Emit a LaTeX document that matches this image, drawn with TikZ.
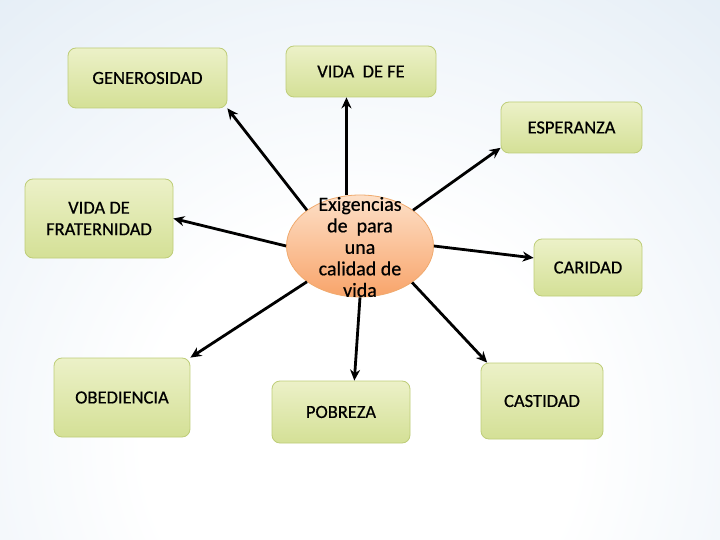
\documentclass[tikz,border=0pt]{standalone}
\usepackage{fontspec}
\setmainfont{Carlito}
\newfontfamily\labelfont{Carlito}[FakeBold=0.6]
\usetikzlibrary{shapes.geometric,arrows.meta}
\definecolor{bgblue}{RGB}{194,214,233}
\definecolor{bgmid}{RGB}{214,228,241}
\definecolor{boxtop}{RGB}{236,241,200}
\definecolor{boxbot}{RGB}{212,224,150}
\definecolor{boxline}{RGB}{190,205,120}
\definecolor{elltop}{RGB}{253,224,200}
\definecolor{ellbot}{RGB}{248,164,106}
\definecolor{ellline}{RGB}{240,170,110}
\pgfdeclareradialshading{bgglow}{\pgfpoint{0bp}{0bp}}{color(0bp)=(white); color(9bp)=(white); color(33bp)=(bgmid); color(46bp)=(bgblue); color(50bp)=(bgblue)}
\tikzset{
  greenbox/.style={draw=boxline, line width=0.8pt, rounded corners=8pt,
    top color=boxtop, bottom color=boxbot, inner sep=0pt, align=center,
    font=\labelfont\fontsize{18.5}{21.5}\selectfont},
  centreell/.style={ellipse, draw=ellline, line width=0.8pt,
    top color=elltop, bottom color=ellbot, inner sep=0pt},
  centretext/.style={align=center, inner sep=0pt, font=\labelfont\fontsize{20}{21.5}\selectfont},
  link/.style={line width=2.8pt, -{Stealth[length=11pt,width=10pt]}}
}
\begin{document}
\begin{tikzpicture}[x=1pt,y=-1pt]
\useasboundingbox (0,0) rectangle (720,540);
\fill[bgblue] (0,0) rectangle (720,540);
\begin{scope}
\clip (0,0) rectangle (720,540);
\fill[shading=bgglow] (360,440) circle [radius=600];
\end{scope}

\node[greenbox, minimum width=159pt, minimum height=60pt] (gen) at (147.5,78) {GENEROSIDAD};
\node[greenbox, minimum width=150pt, minimum height=51pt] (fe) at (361,71.5) {VIDA\ \ DE FE};
\node[greenbox, minimum width=141pt, minimum height=51pt] (esp) at (571.5,127.5) {ESPERANZA};
\node[greenbox, minimum width=148pt, minimum height=79pt] (frat) at (99,218.5) {VIDA DE\\FRATERNIDAD};
\node[greenbox, minimum width=108pt, minimum height=57pt] (car) at (588,267.5) {CARIDAD};
\node[greenbox, minimum width=136pt, minimum height=79pt] (obe) at (122,397.5) {OBEDIENCIA};
\node[greenbox, minimum width=138pt, minimum height=62pt] (pob) at (341,412) {POBREZA};
\node[greenbox, minimum width=122pt, minimum height=76pt] (cas) at (542,401) {CASTIDAD};

\node[centreell, minimum width=147pt, minimum height=102pt] (c) at (360,246) {};
\node[centretext] (ct) at (360,247) {Exigencias\\de\ \ para\\una\\calidad de\\vida};

\draw[link] (c.146.6) -- (gen.south east);
\draw[link] (c.105.6) -- (c.105.6 |- fe.south);
\draw[link] (c.34) -- (esp.196);
\draw[link] (c.west) -- (frat.east);
\draw[link] (c.east) -- (car.170);
\draw[link] (c.214) -- (obe.north east);
\draw[link] (c.south) -- (pob.67);
\draw[link] (c.325) -- (cas.145);
\end{tikzpicture}
\end{document}
